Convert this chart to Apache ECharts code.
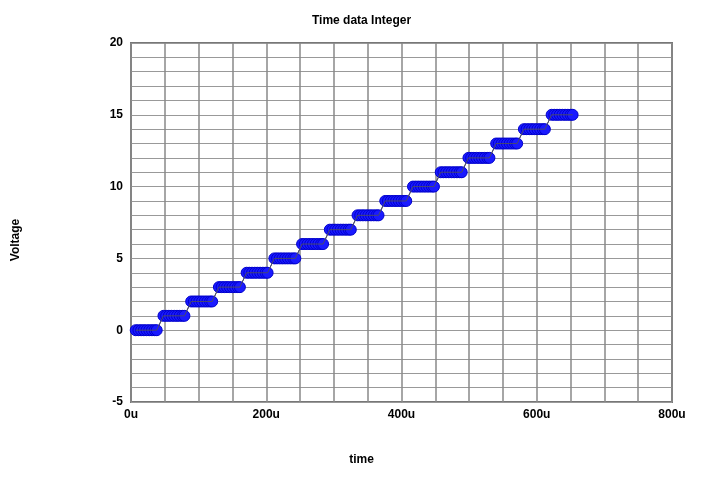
<!DOCTYPE html>
<html>
<head>
<meta charset="utf-8">
<script src="https://cdn.jsdelivr.net/npm/echarts@6/dist/echarts.min.js"></script>
<style>
  html, body { margin: 0; padding: 0; background: #fff; }
  #chart { width: 723px; height: 480px; }
</style>
</head>
<body>
<div id="chart"></div>
<script>
// counter levels and where each step starts (in u)
const levels = [0, 1, 2, 3, 4, 5, 6, 7, 8, 9, 10, 11, 12, 13, 14, 15];
const stepStart = [7, 48, 89, 130, 171, 212, 253, 294, 335, 376, 417, 458, 499, 540, 581, 622];
// sample offsets inside one step (u)
const sampleOffsets = [0, 4, 8, 12, 16, 20, 24, 28, 31];
const xTicks = [0, 200, 400, 600, 800];
const yTicks = [-5, 0, 5, 10, 15, 20];

const points = [];
levels.forEach((lv, i) => {
    sampleOffsets.forEach(off => points.push([stepStart[i] + off, lv]));
});

const chart = echarts.init(document.getElementById('chart'));
const font = 'Liberation Sans, Arial, sans-serif';
const bold = { fontFamily: font, fontSize: 12, fontWeight: 'bold', color: '#000' };

chart.setOption({
    animation: false,
    title: [
        { text: 'Time data Integer', left: 'center', top: 10, textStyle: bold },
        { text: 'time', left: 'center', top: 449, textStyle: bold }
    ],
    graphic: [{
        type: 'text', x: 16, y: 240, rotation: Math.PI / 2,
        style: { text: 'Voltage', font: 'bold 12px ' + font, fill: '#000', align: 'center', verticalAlign: 'middle' }
    }],
    grid: {
        left: 131, right: 51, top: 43, bottom: 78,
        show: true, borderColor: '#777', borderWidth: 2
    },
    xAxis: {
        type: 'value', min: 0, max: 800, interval: 50,
        axisLine: { show: false },
        axisTick: { show: false },
        axisLabel: Object.assign({}, bold, {
            margin: 7,
            formatter: v => xTicks.includes(v) ? v + 'u' : ''
        }),
        splitLine: { lineStyle: { color: '#888', width: 1.5 } }
    },
    yAxis: {
        type: 'value', min: -5, max: 20, interval: 1,
        axisLine: { show: false },
        axisTick: { show: false },
        axisLabel: Object.assign({}, bold, {
            margin: 8,
            formatter: v => yTicks.includes(v) ? String(v) : ''
        }),
        splitLine: { lineStyle: { color: '#999', width: 1 } }
    },
    series: [{
        type: 'line',
        data: points,
        symbol: 'circle',
        symbolSize: 11,
        itemStyle: { color: '#1a1aff', borderColor: '#0000cc', borderWidth: 1 },
        lineStyle: { color: '#555', width: 1 },
        z: 3
    }, {
        // thin dark trace drawn over the markers
        type: 'line',
        data: points,
        symbol: 'none',
        lineStyle: { color: '#4a4a6a', width: 1 },
        z: 4
    }]
});
</script>
</body>
</html>
